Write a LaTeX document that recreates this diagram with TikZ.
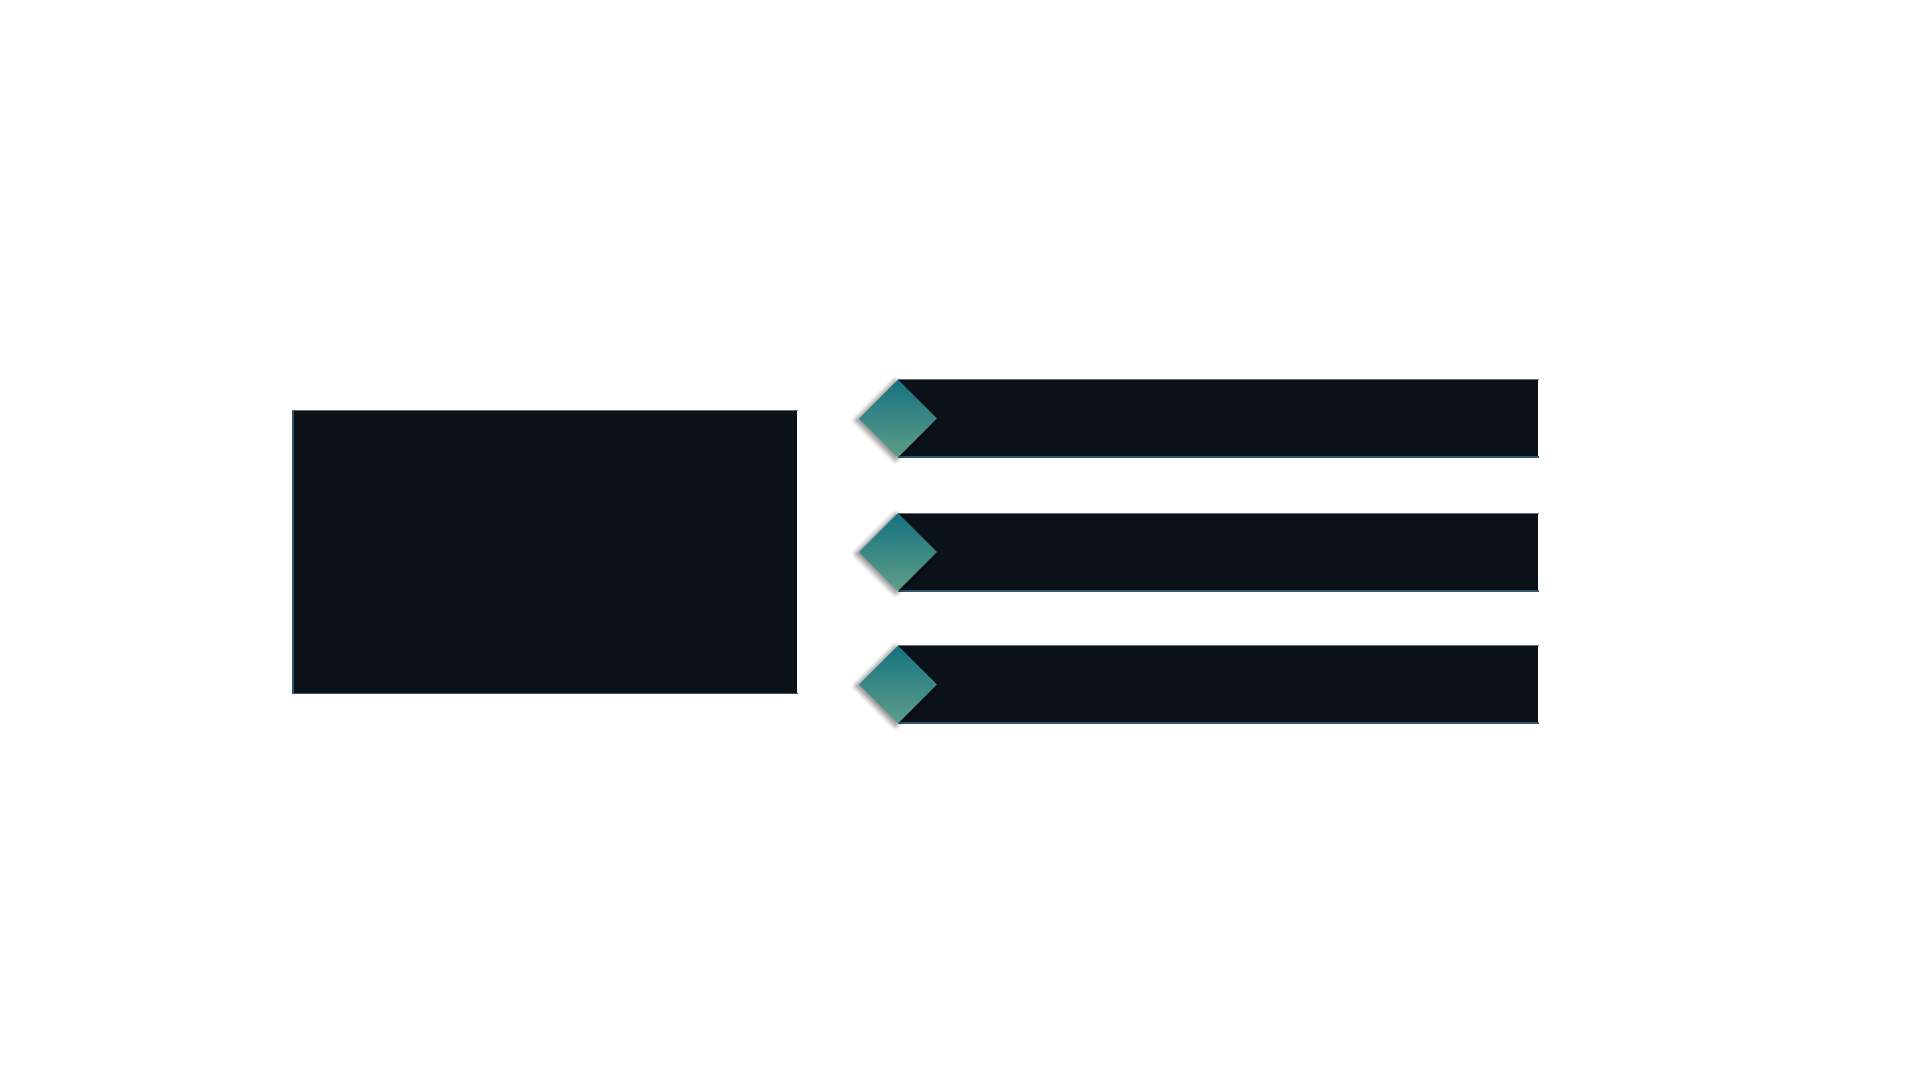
\documentclass[tikz,border=0pt]{standalone}
\usepackage{tikz}
\usetikzlibrary{shapes.geometric}
\usetikzlibrary{shadows.blur}
\usetikzlibrary{positioning}
\definecolor{panel}{HTML}{0B1118}
\definecolor{edgeblue}{HTML}{30586E}
\definecolor{edgegray}{HTML}{6A6E72}
\definecolor{tealtop}{HTML}{16727F}
\definecolor{tealbot}{HTML}{5E9E8A}

\begin{document}
\begin{tikzpicture}[x=1cm,y=1cm,
		panelbox/.style={rectangle,fill=panel,inner sep=0pt,anchor=north west},
		barbox/.style={rectangle,fill=panel,inner sep=0pt,anchor=west,minimum width=12.8cm,minimum height=1.53cm},
		gem/.style={diamond,aspect=1,inner sep=0pt,minimum width=1.56cm,minimum height=1.56cm,
			top color=tealtop,bottom color=tealbot,
			blur shadow={shadow xshift=-1.5pt,shadow yshift=-1pt,shadow blur radius=3pt,shadow blur steps=12,shadow opacity=55}}]
		\useasboundingbox (0,0) rectangle (38.4,21.6);
		
		% left panel
		\node[panelbox,minimum width=10.08cm,minimum height=5.66cm] (main) at (5.86,13.4) {};
		\draw[edgeblue,line width=0.8pt] (main.north west) -- (main.south west) -- (main.south east);
		\draw[edgegray,line width=0.4pt] (main.north west) -- (main.north east);
		
		% three bars with diamonds
		\foreach \i/\y in {1/13.23,2/10.56,3/7.91}{
			\node[barbox] (bar\i) at (17.96,\y) {};
			\draw[edgegray,line width=0.5pt] (bar\i.north west) -- (bar\i.north east);
			\draw[edgeblue,line width=1.2pt] (bar\i.south west) -- (bar\i.south east);
			\node[gem] (gem\i) at (bar\i.west) {};
		}
	\end{tikzpicture}
\end{document}
